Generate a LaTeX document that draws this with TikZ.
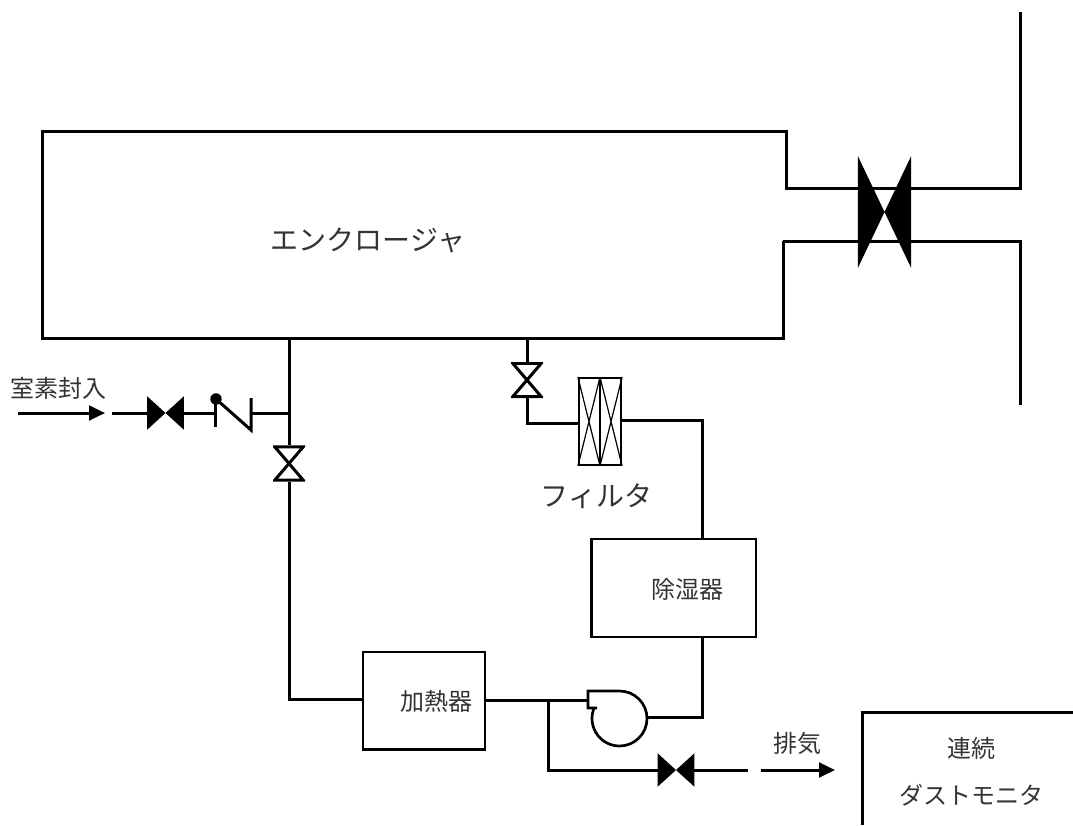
\documentclass[tikz,border=0pt]{standalone}
\usepackage{fontspec}
\setmainfont{Noto Sans CJK JP}
\usetikzlibrary{positioning, arrows.meta, calc}

\begin{document}
\begin{tikzpicture}[x=0.75pt, y=-0.75pt, >={Triangle[length=12pt,width=11pt]},
    pipe/.style={line width=2.25pt, line join=miter},
    unit/.style={draw, line width=2pt, fill=white, inner sep=0pt},
    lbl/.style={inner sep=0pt, font=\fontsize{18}{22}\selectfont, text=black!80},
    biglbl/.style={lbl, font=\fontsize{21}{25}\selectfont},
    bowh/.style={inner sep=0pt, minimum width=27.5pt, minimum height=25pt,
      path picture={\fill[black] (path picture bounding box.north west) -- (path picture bounding box.south east) -- (path picture bounding box.north east) -- (path picture bounding box.south west) -- cycle;}},
    bowbig/.style={bowh, minimum width=40pt, minimum height=84pt},
    bowv/.style={inner sep=0pt, minimum width=24pt, minimum height=27pt,
      path picture={\draw[line width=2.25pt, fill=white]
        ([shift={(1.4pt,-1.1pt)}]path picture bounding box.north west) -- ([shift={(-1.4pt,1.1pt)}]path picture bounding box.south east) -- ([shift={(1.4pt,1.1pt)}]path picture bounding box.south west) -- ([shift={(-1.4pt,-1.1pt)}]path picture bounding box.north east) -- cycle;}}]

  \useasboundingbox (0,0) rectangle (1073,825);

  % エンクロージャと右側の配管
  \coordinate (encne) at (786,131);
  \coordinate (encnw) at (42,131);
  \coordinate (encsw) at (42,338);
  \coordinate (encse) at (783,338);
  \coordinate (ductup) at (786,188);
  \coordinate (ductlo) at (783,241);
  \coordinate (ductupend) at (1020,12);
  \coordinate (ductloend) at (1020,405);
  \draw[pipe] (ductlo) -- (encse) -- (encsw) -- (encnw) -- (encne) -- (ductup) -| (ductupend);
  \draw[pipe] (ductlo) -| (ductloend);
  \node[bowbig] (vbig) at (884.5,212) {};
  \node[biglbl] (enc) at (368,240) {エンクロージャ};

  % 機器
  \node[unit, minimum width=91.5pt, minimum height=73pt] (heater) at (424,700.5) {};
  \node[lbl] (heaterlbl) at (436,701) {加熱器};
  \node[unit, minimum width=123.5pt, minimum height=73.5pt] (dehum) at (673.5,588) {};
  \node[lbl] (dehumlbl) at (687,589) {除湿器};
  \node[draw, line width=1.6pt, minimum width=31.5pt, minimum height=65pt, inner sep=0pt] (filter) at (600,421.5) {};
  \node[biglbl, below=13.5pt of filter, xshift=-2.5pt] (filterlbl) {フィルタ};
  \draw[line width=1.5pt] (filter.north) -- (filter.south);
  \draw[line width=0.9pt]
    (filter.north west) -- (filter.south) (filter.south west) -- (filter.north)
    (filter.north east) -- (filter.south) (filter.south east) -- (filter.north);

  % 窒素封入ライン
  \coordinate (n2start) at (18,413);
  \coordinate (n2end) at (105,413);
  \coordinate (n2pipe) at (112,413);
  \coordinate (n2tee) at (289,413);
  \coordinate (chkin) at (215,413);
  \coordinate (chkout) at (251,413);
  \node[bowh] (vn2) at (165.5,413) {};
  \node[lbl] (n2lbl) at (58,388) {室素封入};
  \draw[->, pipe] (n2start) -- (n2end);
  \draw[pipe] (n2pipe) -- (vn2);
  \draw[pipe] (vn2) -- (chkin);
  \draw[pipe] (chkout) -- (n2tee);
  % 逆止弁
  \draw[pipe] (215,400) -- (215,427);
  \draw[pipe] (216,399) -- (251,430) -- (251,398);
  \fill (216,399) circle (4.3pt);

  % 戻り配管
  \coordinate (encout) at (289,338);
  \coordinate (heatin) at (363,699);
  \node[bowv] (vret) at (289,463.5) {};
  \draw[pipe] (encout) -- (vret);
  \draw[pipe] (vret) |- (heatin);

  % 吸込み配管
  \coordinate (encin) at (527,338);
  \coordinate (filterin) at (579,423);
  \coordinate (filterout) at (621,420);
  \coordinate (dehumtop) at (702,539);
  \coordinate (dehumbot) at (702,637);
  \node[bowv] (vsuc) at (527,380) {};
  \draw[pipe] (encin) -- (vsuc);
  \draw[pipe] (vsuc) |- (filterin);
  \draw[pipe] (filterout) -| (dehumtop);

  % ブロワ
  \coordinate (fanin) at (588,700);
  \coordinate (fanout) at (647,717);
  \coordinate (heatout) at (485,700);
  \draw[line width=2pt] (597,708) -- (588,708) -- (fanin) -- (588,691) -- (619.5,691)
    arc[start angle=-90, end angle=205, radius=27.5];
  \draw[pipe] (heatout) -- (fanin);
  \draw[pipe] (dehumbot) |- (fanout);

  % 排気ライン
  \coordinate (extee) at (548,700);
  \coordinate (exin) at (658,770);
  \coordinate (exout) at (694,770);
  \coordinate (exend) at (748,770);
  \coordinate (arrstart) at (761,770);
  \coordinate (arrend) at (835,770);
  \node[bowh] (vex) at (676,770) {};
  \draw[pipe] (extee) |- (exin);
  \draw[pipe] (exout) -- (exend);
  \draw[->, pipe] (arrstart) -- (arrend);
  \node[lbl] (exlbl) at (797,743) {排気};

  % ダストモニタ
  \coordinate (monnw) at (862,712);
  \coordinate (monne) at (1073,712);
  \coordinate (monsw) at (862,825);
  \draw[pipe] (monsw) -- (monnw) -- (monne);
  \node[lbl] (monlbl) at (971.5,748) {連続};
  \node[lbl] (monlbl2) at (971.5,795) {ダストモニタ};
\end{tikzpicture}
\end{document}
